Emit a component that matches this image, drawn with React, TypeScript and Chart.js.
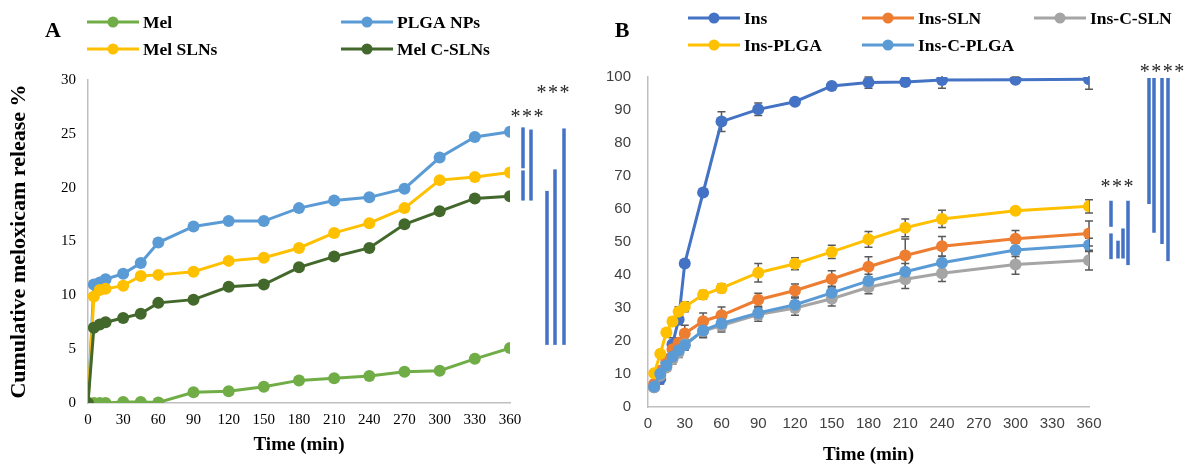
import React, { useEffect, useRef } from "react";
import { Chart, registerables } from "chart.js";

Chart.register(...registerables);

// ---------- Panel A: meloxicam release ----------
const timesA = [0, 5, 10, 15, 30, 45, 60, 90, 120, 150, 180, 210, 240, 270, 300, 330, 360];
const melFree = [0, 0, 0, 0, 0.1, 0.1, 0.05, 1.0, 1.1, 1.5, 2.1, 2.3, 2.5, 2.9, 3.0, 4.1, 5.1];
const melPLGA = [0, 11.0, 11.2, 11.5, 12.0, 13.0, 14.9, 16.4, 16.9, 16.9, 18.1, 18.8, 19.1, 19.9, 22.8, 24.7, 25.2];
const melSLN = [0, 9.9, 10.5, 10.6, 10.9, 11.8, 11.9, 12.2, 13.2, 13.5, 14.4, 15.8, 16.7, 18.1, 20.7, 21.0, 21.4];
const melCSLN = [0, 7.0, 7.3, 7.5, 7.9, 8.3, 9.3, 9.6, 10.8, 11.0, 12.6, 13.6, 14.4, 16.6, 17.8, 19.0, 19.2];

// ---------- Panel B: insulin release (mean ± SD) ----------
const timesB = [5, 10, 15, 20, 25, 30, 45, 60, 90, 120, 150, 180, 210, 240, 300, 360];
const insFree = [6.0, 8.5, 13.5, 19.0, 26.5, 43.5, 65.0, 86.5, 90.2, 92.5, 97.3, 98.3, 98.5, 99.1, 99.2, 99.3];
const insSLN = [7.0, 11.0, 14.5, 17.5, 19.5, 22.3, 26.0, 27.8, 32.5, 35.3, 38.8, 42.5, 45.9, 48.7, 51.0, 52.6];
const insCSLN = [6.0, 9.5, 12.0, 14.5, 16.5, 19.0, 23.0, 24.7, 28.0, 30.0, 32.8, 36.3, 38.7, 40.5, 43.2, 44.5];
const insPLGA = [10.2, 16.1, 22.6, 25.9, 28.9, 30.4, 34.0, 36.0, 40.7, 43.4, 47.0, 50.8, 54.3, 57.0, 59.5, 60.8];
const insCPLGA = [6.2, 10.1, 12.6, 15.2, 17.2, 18.7, 23.2, 25.3, 28.5, 31.0, 34.6, 38.2, 41.0, 43.7, 47.6, 49.1];

const insFreeSD = [1.0, 1.5, 1.5, 2.0, 1.5, 1.0, 1.0, 3.0, 1.9, 0.8, 0.8, 1.7, 1.2, 2.5, 0.8, 3.0];
const insSLNSD = [1.0, 1.0, 1.2, 1.5, 1.5, 2.5, 2.5, 2.5, 2.0, 2.0, 2.5, 3.0, 5.0, 3.0, 2.5, 3.8];
const insCSLNSD = [1.0, 1.0, 1.2, 1.5, 1.5, 1.5, 2.0, 2.0, 2.0, 2.2, 2.2, 2.0, 2.8, 2.5, 3.0, 3.0];
const insPLGASD = [1.0, 1.0, 1.0, 1.2, 1.5, 1.5, 1.3, 1.3, 2.8, 1.8, 2.0, 2.4, 2.7, 2.6, 0.8, 2.0];
const insCPLGASD = [1.0, 1.0, 1.0, 1.0, 1.2, 1.5, 2.0, 2.0, 1.8, 2.0, 2.0, 2.0, 2.5, 2.0, 2.0, 2.0];

// Significance brackets: value spans [top, bottom] on the y scale
const sigSpansA = [[25.6, 21.8], [21.6, 18.8], [25.4, 18.8], [19.7, 5.4], [21.7, 5.4], [25.5, 5.4]];
const sigSpansB = [
  [62.5, 54.6], [52.6, 44.8], [50.4, 45.0], [54.1, 45.0], [62.5, 43.0],
  [99.7, 61.5], [99.7, 52.8], [99.7, 49.4], [99.7, 44.2],
];
const sigLabelsA = [{ text: "***", value: 26.9 }, { text: "***", value: 29.2 }];
const sigLabelsB = [{ text: "***", value: 67.9 }, { text: "****", value: 102.7 }];

// pixel offsets to the right of the plot area for the brackets / labels
const sigOffsetsA = [13, 13, 21, 37, 45, 54];
const sigOffsetsB = [22, 22, 29, 34, 39, 60, 65, 73, 79];
const sigLabelOffsetsA = [17, 43];
const sigLabelOffsetsB = [28, 73];

const SERIF = '"Liberation Serif", "Times New Roman", serif';
const SANS = '"Liberation Sans", Arial, sans-serif';
const BRACKET = "#4472C4";

type LegendItem = { label: string; color: string; x: number; y: number };

function toPoints(times: number[], vals: number[]) {
  return times.map((t, i) => ({ x: t, y: vals[i] }));
}

function series(label: string, color: string, times: number[], vals: number[], order: number, sd?: number[]) {
  return {
    label,
    data: toPoints(times, vals),
    borderColor: color,
    backgroundColor: color,
    pointBackgroundColor: color,
    pointBorderColor: color,
    pointRadius: 6,
    pointBorderWidth: 0,
    borderWidth: 3,
    tension: 0,
    order,
    sd,
  } as any;
}

function overlayPlugin(opts: {
  legend: LegendItem[];
  panel: { text: string; x: number; y: number };
  spans: number[][];
  offsets: number[];
  labels: { text: string; value: number }[];
  labelOffsets: number[];
}) {
  return {
    id: "overlay",
    beforeDatasetsDraw(chart: any) {
      // error bars, drawn beneath the lines and markers
      const ctx = chart.ctx;
      const ys = chart.scales.y;
      const area = chart.chartArea;
      ctx.save();
      ctx.beginPath();
      ctx.rect(area.left, area.top - 1, area.right - area.left + 10, area.bottom - area.top + 1);
      ctx.clip();
      ctx.strokeStyle = "#595959";
      ctx.lineWidth = 1.5;
      chart.data.datasets.forEach((ds: any, di: number) => {
        if (!ds.sd) return;
        const meta = chart.getDatasetMeta(di);
        meta.data.forEach((el: any, i: number) => {
          const v = ds.data[i].y;
          const e = ds.sd[i];
          const yt = ys.getPixelForValue(v + e);
          const yb = ys.getPixelForValue(v - e);
          ctx.beginPath();
          ctx.moveTo(el.x, yt);
          ctx.lineTo(el.x, yb);
          ctx.moveTo(el.x - 4, yt);
          ctx.lineTo(el.x + 4, yt);
          ctx.moveTo(el.x - 4, yb);
          ctx.lineTo(el.x + 4, yb);
          ctx.stroke();
        });
      });
      ctx.restore();
    },
    afterDraw(chart: any) {
      const ctx = chart.ctx;
      const ys = chart.scales.y;
      const area = chart.chartArea;
      ctx.save();
      // legend
      opts.legend.forEach((it) => {
        ctx.strokeStyle = it.color;
        ctx.lineWidth = 3;
        ctx.beginPath();
        ctx.moveTo(it.x, it.y);
        ctx.lineTo(it.x + 52, it.y);
        ctx.stroke();
        ctx.fillStyle = it.color;
        ctx.beginPath();
        ctx.arc(it.x + 26, it.y, 5.5, 0, Math.PI * 2);
        ctx.fill();
        ctx.fillStyle = "#000";
        ctx.font = `bold 17.5px ${SERIF}`;
        ctx.textAlign = "left";
        ctx.textBaseline = "middle";
        ctx.fillText(it.label, it.x + 56, it.y + 1);
      });
      // panel letter
      ctx.fillStyle = "#000";
      ctx.font = `bold 22px ${SERIF}`;
      ctx.textAlign = "center";
      ctx.textBaseline = "middle";
      ctx.fillText(opts.panel.text, opts.panel.x, opts.panel.y);
      // significance brackets
      ctx.fillStyle = BRACKET;
      opts.spans.forEach((s, i) => {
        const yt = ys.getPixelForValue(s[0]);
        const yb = ys.getPixelForValue(s[1]);
        const x = area.right + opts.offsets[i];
        ctx.fillRect(x - 1.75, yt, 3.5, yb - yt);
      });
      ctx.fillStyle = "#262626";
      ctx.font = `20px ${SERIF}`;
      ctx.textAlign = "center";
      ctx.textBaseline = "alphabetic";
      opts.labels.forEach((l, i) => {
        const y = ys.getPixelForValue(l.value);
        const x = area.right + opts.labelOffsets[i];
        const chars = l.text.split("");
        const step = 11.5;
        chars.forEach((c, k) => {
          ctx.fillText(c, x + (k - (chars.length - 1) / 2) * step, y + 10);
        });
      });
      ctx.restore();
    },
  };
}

function makeChartA(canvas: HTMLCanvasElement) {
  return new Chart(canvas, {
    type: "line",
    data: {
      datasets: [
        series("Mel", "#70AD47", timesA, melFree, 4),
        series("PLGA NPs", "#5B9BD5", timesA, melPLGA, 3),
        series("Mel SLNs", "#FFC000", timesA, melSLN, 2),
        series("Mel C-SLNs", "#43682B", timesA, melCSLN, 1),
      ],
    },
    options: {
      animation: false,
      responsive: false,
      maintainAspectRatio: false,
      events: [],
      layout: { padding: { left: 0, top: 80, right: 80, bottom: 0 } },
      plugins: { legend: { display: false }, tooltip: { enabled: false } },
      scales: {
        x: {
          type: "linear",
          min: 0,
          max: 360,
          ticks: { stepSize: 30, color: "#000", font: { family: SERIF, size: 15 }, padding: 8, maxRotation: 0 },
          grid: { display: false, drawTicks: false },
          border: { display: true, color: "#BFBFBF", width: 1.5 },
          title: {
            display: true,
            text: "Time (min)",
            color: "#000",
            font: { family: SERIF, size: 19, weight: "bold" },
            padding: { top: 0, bottom: 10 },
          },
          afterFit: (s: any) => { s.height = 63; },
        },
        y: {
          min: 0,
          max: 30,
          ticks: { stepSize: 5, color: "#000", font: { family: SERIF, size: 15 }, padding: 12 },
          grid: { display: false, drawTicks: false },
          border: { display: true, color: "#BFBFBF", width: 1.5 },
          title: {
            display: true,
            text: "Cumulative meloxicam release %",
            color: "#000",
            font: { family: SERIF, size: 22, weight: "bold" },
            padding: { top: 6, bottom: 0 },
          },
          afterFit: (s: any) => { s.width = 88; },
        },
      },
    } as any,
    plugins: [
      overlayPlugin({
        legend: [
          { label: "Mel", color: "#70AD47", x: 87, y: 22 },
          { label: "PLGA NPs", color: "#5B9BD5", x: 341, y: 22 },
          { label: "Mel SLNs", color: "#FFC000", x: 87, y: 49 },
          { label: "Mel C-SLNs", color: "#43682B", x: 341, y: 49 },
        ],
        panel: { text: "A", x: 53, y: 31 },
        spans: sigSpansA,
        offsets: sigOffsetsA,
        labels: sigLabelsA,
        labelOffsets: sigLabelOffsetsA,
      }),
    ],
  });
}

function makeChartB(canvas: HTMLCanvasElement) {
  const off = 590;
  return new Chart(canvas, {
    type: "line",
    data: {
      datasets: [
        series("Ins", "#4472C4", timesB, insFree, 5, insFreeSD),
        series("Ins-SLN", "#ED7D31", timesB, insSLN, 4, insSLNSD),
        series("Ins-C-SLN", "#A5A5A5", timesB, insCSLN, 3, insCSLNSD),
        series("Ins-PLGA", "#FFC000", timesB, insPLGA, 2, insPLGASD),
        series("Ins-C-PLGA", "#5B9BD5", timesB, insCPLGA, 1, insCPLGASD),
      ],
    },
    options: {
      animation: false,
      responsive: false,
      maintainAspectRatio: false,
      events: [],
      layout: { padding: { left: 0, top: 77, right: 96, bottom: 0 } },
      plugins: { legend: { display: false }, tooltip: { enabled: false } },
      scales: {
        x: {
          type: "linear",
          min: 0,
          max: 360,
          ticks: { stepSize: 30, color: "#404040", font: { family: SANS, size: 15 }, padding: 8, maxRotation: 0 },
          grid: { display: false, drawTicks: false },
          border: { display: true, color: "#BFBFBF", width: 1.5 },
          title: {
            display: true,
            text: "Time (min)",
            color: "#000",
            font: { family: SERIF, size: 19, weight: "bold" },
            padding: { top: 0, bottom: 0 },
          },
          afterFit: (s: any) => { s.height = 59; },
        },
        y: {
          min: 0,
          max: 100,
          ticks: { stepSize: 10, color: "#404040", font: { family: SANS, size: 15 }, padding: 17 },
          grid: { display: false, drawTicks: false },
          border: { display: true, color: "#BFBFBF", width: 1.5 },
          afterFit: (s: any) => { s.width = 58; },
        },
      },
    } as any,
    plugins: [
      overlayPlugin({
        legend: [
          { label: "Ins", color: "#4472C4", x: 688 - off, y: 18 },
          { label: "Ins-SLN", color: "#ED7D31", x: 862 - off, y: 18 },
          { label: "Ins-C-SLN", color: "#A5A5A5", x: 1034 - off, y: 18 },
          { label: "Ins-PLGA", color: "#FFC000", x: 688 - off, y: 45 },
          { label: "Ins-C-PLGA", color: "#5B9BD5", x: 862 - off, y: 45 },
        ],
        panel: { text: "B", x: 622 - off, y: 31 },
        spans: sigSpansB,
        offsets: sigOffsetsB,
        labels: sigLabelsB,
        labelOffsets: sigLabelOffsetsB,
      }),
    ],
  });
}

export default function App() {
  const refA = useRef<HTMLCanvasElement>(null);
  const refB = useRef<HTMLCanvasElement>(null);

  useEffect(() => {
    const a = refA.current ? makeChartA(refA.current) : null;
    const b = refB.current ? makeChartB(refB.current) : null;
    return () => {
      a?.destroy();
      b?.destroy();
    };
  }, []);

  return (
    <div style={{ position: "absolute", left: 0, top: 0, width: 1185, height: 466, background: "#fff", overflow: "hidden" }}>
      <canvas ref={refA} width={590} height={466} style={{ position: "absolute", left: 0, top: 0, width: 590, height: 466 }} />
      <canvas ref={refB} width={595} height={466} style={{ position: "absolute", left: 590, top: 0, width: 595, height: 466 }} />
    </div>
  );
}
